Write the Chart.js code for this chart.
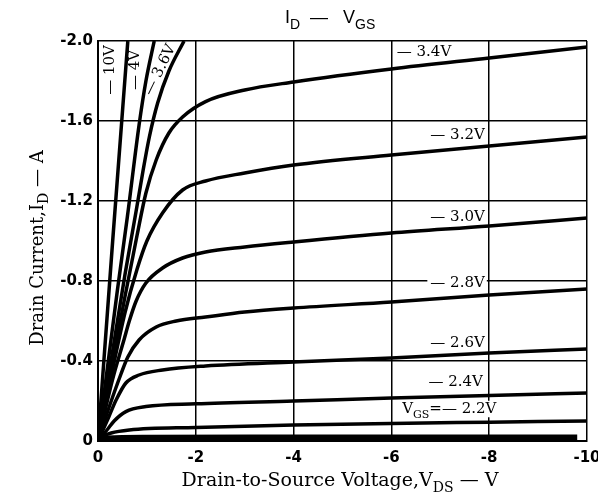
<!DOCTYPE html>
<html>
<head>
<meta charset="utf-8">
<script src="https://cdn.jsdelivr.net/npm/chart.js@4/dist/chart.umd.min.js"></script>
<style>
html,body{margin:0;padding:0;background:#fff}
</style>
</head>
<body>
<canvas id="c" width="598" height="496"></canvas>
<script>
// V_DS (V), I_D (A)
const vgs_10V = [[0,0],[-0.3,-1.0],[-0.61,-2.0]];
const vgs_4V = [[0,0],[-0.2,-0.38],[-0.4,-0.76],[-0.6,-1.12],[-0.84,-1.58],[-0.98,-1.8],[-1.15,-2.0]];
const vgs_36V = [[0,0],[-0.3,-0.45],[-0.55,-0.83],[-0.78,-1.15],[-0.92,-1.35],[-1.05,-1.52],[-1.22,-1.69],[-1.45,-1.85],[-1.76,-2.0]];
const vgs_34V = [[0,0],[-0.3,-0.4],[-0.55,-0.72],[-0.8,-1.03],[-0.98,-1.24],[-1.19,-1.405],[-1.45,-1.54],[-1.73,-1.62],[-2.2,-1.697],[-3,-1.755],[-4,-1.795],[-6,-1.86],[-8,-1.915],[-10,-1.97]];
const vgs_32V = [[0,0],[-0.3,-0.36],[-0.55,-0.64],[-0.8,-0.86],[-1.0,-1.0],[-1.32,-1.14],[-1.73,-1.255],[-2.2,-1.3],[-3,-1.34],[-4,-1.38],[-6,-1.43],[-8,-1.475],[-10,-1.52]];
const vgs_30V = [[0,0],[-0.3,-0.31],[-0.53,-0.505],[-0.64,-0.6],[-0.78,-0.7],[-0.98,-0.79],[-1.32,-0.865],[-1.73,-0.915],[-2.2,-0.945],[-3,-0.97],[-4,-0.995],[-6,-1.04],[-8,-1.075],[-10,-1.115]];
const vgs_28V = [[0,0],[-0.2,-0.15],[-0.47,-0.335],[-0.61,-0.42],[-0.84,-0.505],[-1.19,-0.57],[-1.6,-0.6],[-2.2,-0.62],[-3,-0.645],[-4,-0.665],[-6,-0.695],[-8,-0.73],[-10,-0.76]];
const vgs_26V = [[0,0],[-0.22,-0.12],[-0.37,-0.205],[-0.57,-0.29],[-0.84,-0.33],[-1.32,-0.355],[-2.2,-0.375],[-4,-0.395],[-6,-0.415],[-8,-0.44],[-10,-0.46]];
const vgs_24V = [[0,0],[-0.2,-0.06],[-0.33,-0.1],[-0.57,-0.147],[-0.98,-0.172],[-2,-0.186],[-4,-0.2],[-6,-0.215],[-8,-0.228],[-10,-0.24]];
const vgs_22V = [[0,0],[-0.12,-0.025],[-0.27,-0.04],[-0.64,-0.055],[-2,-0.068],[-4,-0.08],[-6,-0.088],[-8,-0.094],[-10,-0.1]];
const vgs_low = [[0,0],[-0.2,-0.012],[-1,-0.016],[-4,-0.017],[-9.8,-0.018]];

const xTickValues = [0,-2,-4,-6,-8,-10];
const xTickLabels = ['0','-2','-4','-6','-8','-10'];
const yTickValues = [0,-0.4,-0.8,-1.2,-1.6,-2.0];
const yTickLabels = ['0','-0.4','-0.8','-1.2','-1.6','-2.0'];

const curves = [vgs_10V,vgs_4V,vgs_36V,vgs_34V,vgs_32V,vgs_30V,vgs_28V,vgs_26V,vgs_24V,vgs_22V,vgs_low];

// curve labels: position given in data units (V_DS, I_D)
const curveLabels = [
  {parts:[['— 3.4V']], x:-6.11, y:-1.945, align:'left'},
  {parts:[['— 3.2V']], x:-7.91, y:-1.53, align:'right'},
  {parts:[['— 3.0V']], x:-7.91, y:-1.12, align:'right'},
  {parts:[['— 2.8V']], x:-7.91, y:-0.79, align:'right'},
  {parts:[['— 2.6V']], x:-7.91, y:-0.49, align:'right'},
  {parts:[['— 2.4V']], x:-7.87, y:-0.295, align:'right'},
  {parts:[['V'],['GS',1],['=— 2.2V']], x:-6.22, y:-0.16, align:'left'},
  {parts:[['— 10V']], x:-0.245, y:-1.855, align:'center', rot:-90, bg:false},
  {parts:[['— 4V']], x:-0.757, y:-1.855, align:'center', rot:-90, bg:false},
  {parts:[['— 3.6V']], x:-1.27, y:-1.855, align:'center', rot:-64, bg:false}
];

function drawRich(ctx, parts, x, y, align, size, family, bg){
  const subSize = Math.round(size*0.75);
  let w = 0;
  const widths = parts.map(p=>{
    ctx.font = (p[1]?subSize:size)+'px '+family;
    const m = ctx.measureText(p[0]).width; w += m; return m;
  });
  let sx = align==='left'?x:(align==='right'?x-w:x-w/2);
  if(bg){
    ctx.fillStyle='#fff';
    ctx.fillRect(sx-3, y-size*0.55, w+5, size*1.1);
  }
  ctx.fillStyle='#000';
  ctx.textBaseline='middle';
  ctx.textAlign='left';
  parts.forEach((p,i)=>{
    ctx.font = (p[1]?subSize:size)+'px '+family;
    ctx.fillText(p[0], sx, p[1]?y+size*0.38:y);
    sx += widths[i];
  });
}

const textPlugin = {
  id:'texts',
  beforeDatasetsDraw(chart){
    const ctx = chart.ctx, xs = chart.scales.x, ys = chart.scales.y;
    ctx.save();
    curveLabels.forEach(l=>{
      const px = xs.getPixelForValue(l.x), py = ys.getPixelForValue(l.y);
      if(l.rot){
        ctx.save();
        ctx.translate(px,py);
        ctx.rotate(l.rot*Math.PI/180);
        drawRich(ctx,l.parts,0,0,'center',15,'"DejaVu Serif"',false);
        ctx.restore();
      } else {
        drawRich(ctx,l.parts,px,py,l.align,15,'"DejaVu Serif"',l.bg!==false);
      }
    });
    ctx.restore();
  },
  afterDraw(chart){
    const ctx = chart.ctx;
    ctx.save();
    // title
    drawRich(ctx,[['I'],['D',1],['  —   V'],['GS',1]],285,18,'left',18,'"Liberation Sans"',false);
    // x title
    drawRich(ctx,[['Drain-to-Source Voltage,V'],['DS',1],[' — V']],340,481,'center',19,'"DejaVu Serif"',false);
    // y title
    ctx.translate(38,248);
    ctx.rotate(-Math.PI/2);
    drawRich(ctx,[['Drain Current,I'],['D',1],[' — A']],0,0,'center',18,'"DejaVu Serif"',false);
    ctx.restore();
  }
};

new Chart(document.getElementById('c'),{
  type:'line',
  data:{
    datasets: curves.map((c,i)=>({
      data: c.map(p=>({x:p[0],y:p[1]})),
      borderColor:'#000',
      borderWidth: i===curves.length-1?6:3.5,
      pointRadius:0,
      fill:false,
      cubicInterpolationMode:'monotone'
    }))
  },
  options:{
    responsive:false,
    animation:false,
    layout:{padding:{left:0,right:11,top:41,bottom:0}},
    plugins:{legend:{display:false},tooltip:{enabled:false},title:{display:false}},
    scales:{
      x:{
        type:'linear', min:-10, max:0, reverse:true,
        afterBuildTicks:s=>{s.ticks = xTickValues.map(v=>({value:v}));},
        afterFit:s=>{s.height=55; s.paddingLeft=0; s.paddingRight=0;},
        ticks:{callback:v=>xTickLabels[xTickValues.indexOf(v)], color:'#000', font:{family:'"DejaVu Sans"',size:15,weight:'bold'}, padding:8, maxRotation:0},
        grid:{color:'#000', lineWidth:1.5, drawTicks:false},
        border:{color:'#000', width:2}
      },
      y:{
        type:'linear', min:-2.0, max:0, reverse:true,
        afterBuildTicks:s=>{s.ticks = yTickValues.map(v=>({value:v}));},
        afterFit:s=>{s.width=98; s.paddingTop=0; s.paddingBottom=0;},
        ticks:{callback:v=>yTickLabels[yTickValues.indexOf(v)], color:'#000', font:{family:'"DejaVu Sans"',size:15,weight:'bold'}, padding:5},
        grid:{color:'#000', lineWidth:1.5, drawTicks:false},
        border:{color:'#000', width:2}
      }
    }
  },
  plugins:[textPlugin]
});
</script>
</body>
</html>
